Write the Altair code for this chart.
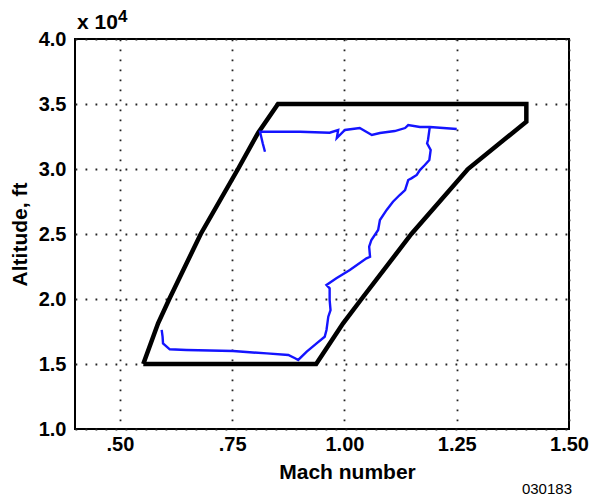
import altair as alt
import pandas as pd

# Flight envelope boundary (Mach, altitude in units of 10^4 ft), closed polygon
env_mach = [0.552, 0.937, 0.997, 1.038, 1.149, 1.275, 1.405, 1.405,
            0.852, 0.808, 0.763, 0.680, 0.610, 0.585, 0.552]
env_alt = [1.500, 1.500, 1.813, 2.000, 2.500, 3.000, 3.364, 3.500,
           3.500, 3.280, 3.000, 2.500, 2.000, 1.813, 1.500]

# Flight trace (Mach, altitude in units of 10^4 ft)
flt_mach = [0.593, 0.595, 0.596, 0.611, 0.648, 0.752, 0.789, 0.827, 0.875,
            0.890, 0.897, 0.916, 0.938, 0.956, 0.960, 0.964, 0.969, 0.967,
            0.967, 0.960, 0.982, 1.012, 1.049, 1.057, 1.055, 1.060, 1.075,
            1.079, 1.094, 1.108, 1.123, 1.135, 1.142, 1.149, 1.161, 1.168,
            1.179, 1.189, 1.192, 1.184, 1.186, 1.190, 1.250, 1.190, 1.168,
            1.142, 1.135, 1.112, 1.079, 1.061, 1.034, 1.001, 0.983, 0.986,
            0.967, 0.901, 0.812, 0.818, 0.823]
flt_alt = [1.762, 1.710, 1.659, 1.613, 1.608, 1.600, 1.590, 1.582, 1.569,
           1.544, 1.531, 1.595, 1.659, 1.710, 1.762, 1.864, 1.915, 1.992,
           2.082, 2.108, 2.159, 2.223, 2.313, 2.325, 2.402, 2.454, 2.531,
           2.608, 2.685, 2.748, 2.800, 2.838, 2.915, 2.928, 2.954, 2.992,
           3.031, 3.069, 3.146, 3.198, 3.223, 3.323, 3.308, 3.323, 3.323,
           3.338, 3.315, 3.292, 3.277, 3.262, 3.315, 3.300, 3.238, 3.300,
           3.279, 3.287, 3.287, 3.198, 3.133]

x_ticks = [0.5, 0.75, 1.0, 1.25, 1.5]
y_ticks = [1.0, 1.5, 2.0, 2.5, 3.0, 3.5, 4.0]

FONT = "Liberation Sans"

env_df = pd.DataFrame({"mach": env_mach, "alt": env_alt, "i": range(len(env_mach))})
flt_df = pd.DataFrame({"mach": flt_mach, "alt": flt_alt, "i": range(len(flt_mach))})

x_enc = alt.X(
    "mach:Q",
    scale=alt.Scale(domain=[0.4, 1.5], nice=False, zero=False),
    axis=alt.Axis(
        values=x_ticks,
        labelExpr="datum.value < 1 ? replace(format(datum.value, '.2f'), '0.', '.') : format(datum.value, '.2f')",
        title="Mach number",
        titleX=272, titleY=49, titleBaseline="alphabetic",
        labelPadding=5, labelFlush=False,
    ),
)
y_enc = alt.Y(
    "alt:Q",
    scale=alt.Scale(domain=[1.0, 4.0], nice=False, zero=False),
    axis=alt.Axis(
        values=y_ticks, format=".1f",
        title="Altitude, ft",
        titleX=-55, titleY=195, titleBaseline="middle", titleAngle=270,
        labelPadding=9, labelFlush=False,
    ),
)

envelope = alt.Chart(env_df).mark_line(
    color="black", strokeWidth=4.5, strokeJoin="miter", clip=False
).encode(x=x_enc, y=y_enc, order="i:Q")

flight = alt.Chart(flt_df).mark_line(
    color="#1414ff", strokeWidth=2.4
).encode(x="mach:Q", y="alt:Q", order="i:Q")

one = pd.DataFrame({"k": [0]})
exp_base = alt.Chart(one).mark_text(
    text="x 10", font=FONT, fontWeight="bold", fontSize=21, align="left", baseline="alphabetic"
).encode(x=alt.value(2), y=alt.value(-10))
exp_pow = alt.Chart(one).mark_text(
    text="4", font=FONT, fontWeight="bold", fontSize=17, align="left", baseline="alphabetic"
).encode(x=alt.value(43), y=alt.value(-17))
fig_id = alt.Chart(one).mark_text(
    text="030183", font=FONT, fontSize=15, align="right", baseline="alphabetic"
).encode(x=alt.value(497), y=alt.value(455))

chart = alt.layer(envelope, flight, exp_base, exp_pow, fig_id).properties(
    width=494, height=390,
    autosize=alt.AutoSizeParams(type="none"),
    padding={"left": 75, "top": 39, "right": 26, "bottom": 68},
    background="white",
).configure_view(
    stroke="black", strokeWidth=2
).configure_axis(
    grid=True, gridColor="#222222", gridDash=[1.8, 8.2], gridWidth=1.8,
    domain=False, ticks=False,
    labelFont=FONT, labelFontWeight="bold", labelFontSize=20, labelColor="black",
    titleFont=FONT, titleFontWeight="bold", titleFontSize=21, titleColor="black",
)

chart.save("out.html", embed_options={"renderer": "svg", "actions": False})
